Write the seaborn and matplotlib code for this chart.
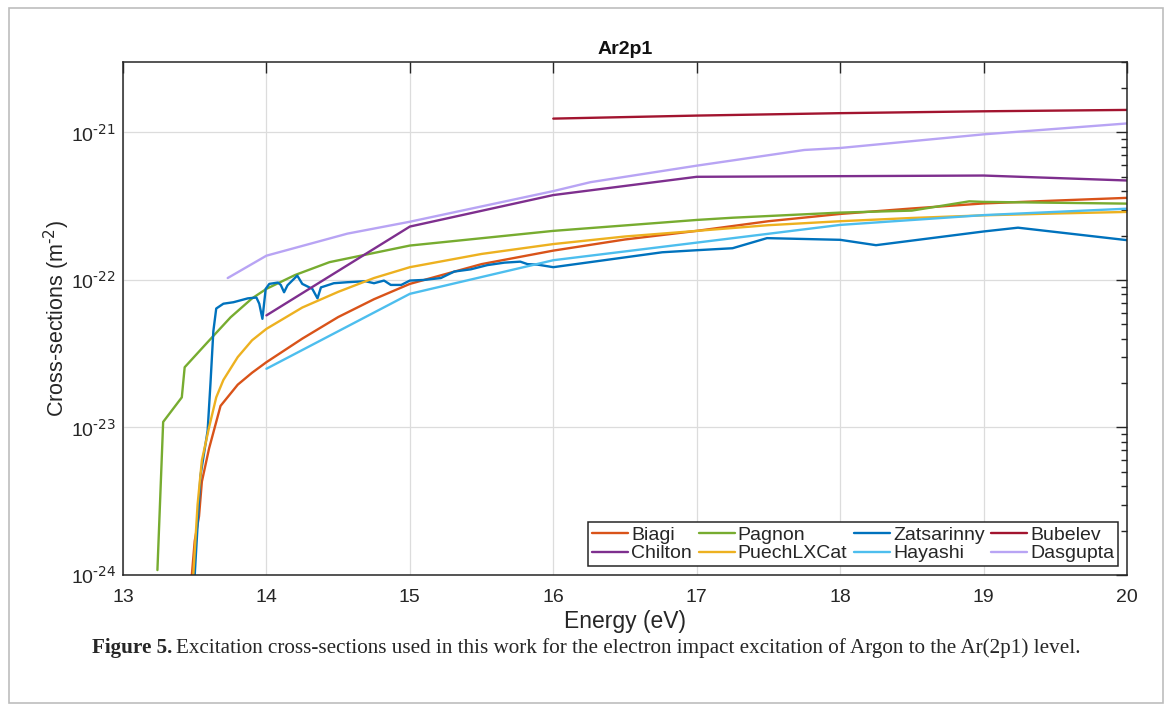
import numpy as np
import pandas as pd
import matplotlib
matplotlib.use("Agg")
import matplotlib.pyplot as plt
import seaborn as sns
from matplotlib.patches import Rectangle
from matplotlib.lines import Line2D
from matplotlib.ticker import NullFormatter, FixedLocator, FuncFormatter

# cross-sections (energy in eV, sigma in m^-2)
biagi_e = [13.48, 13.50, 13.53, 13.55, 13.60, 13.68, 13.80, 13.90, 14.0, 14.25, 14.5, 14.75,
           15.0, 15.5, 16.0, 16.5, 17.0, 17.5, 18.0, 18.5, 19.0, 19.5, 20.0]
biagi_s = [1.0e-24, 1.7e-24, 2.5e-24, 4.3e-24, 7.2e-24, 1.4e-23, 1.95e-23, 2.35e-23, 2.77e-23, 4.0e-23,
           5.6e-23, 7.4e-23, 9.4e-23, 1.28e-22, 1.58e-22, 1.88e-22, 2.15e-22, 2.5e-22, 2.8e-22,
           3.05e-22, 3.3e-22, 3.45e-22, 3.6e-22]

pagnon_e = [13.24, 13.28, 13.41, 13.43, 13.6, 13.75, 13.9, 14.0, 14.2, 14.44, 15.0, 16.0, 17.0,
            17.25, 18.0, 18.5, 18.9, 19.0, 20.0]
pagnon_s = [1.08e-24, 1.09e-23, 1.6e-23, 2.56e-23, 3.88e-23, 5.58e-23, 7.5e-23, 8.7e-23, 1.08e-22,
            1.32e-22, 1.71e-22, 2.15e-22, 2.55e-22, 2.64e-22, 2.86e-22, 2.95e-22, 3.41e-22, 3.38e-22,
            3.29e-22]

zats_e = [13.50, 13.54, 13.59, 13.61, 13.63, 13.65, 13.70, 13.77, 13.87, 13.93, 13.95, 13.972,
          13.995, 14.02, 14.08, 14.10, 14.123, 14.147, 14.18, 14.215, 14.25, 14.32, 14.356, 14.38,
          14.47, 14.565, 14.69, 14.75, 14.82, 14.867, 14.94, 15.0, 15.1, 15.216, 15.31, 15.425,
          15.54, 15.66, 15.77, 15.82, 15.89, 16.0, 16.76, 17.0, 17.25, 17.49, 18.0, 18.25, 19.0,
          19.24, 20.0]
zats_s = [1.0e-24, 4.7e-24, 9.5e-24, 2.0e-23, 4.5e-23, 6.4e-23, 6.9e-23, 7.06e-23, 7.5e-23, 7.6e-23,
          6.9e-23, 5.45e-23, 8.7e-23, 9.4e-23, 9.6e-23, 9.25e-23, 8.25e-23, 9.2e-23, 9.9e-23,
          1.07e-22, 9.4e-23, 8.7e-23, 7.5e-23, 8.9e-23, 9.5e-23, 9.65e-23, 9.8e-23, 9.5e-23,
          9.9e-23, 9.25e-23, 9.25e-23, 9.9e-23, 1.0e-22, 1.03e-22, 1.14e-22, 1.18e-22, 1.26e-22,
          1.31e-22, 1.33e-22, 1.28e-22, 1.27e-22, 1.22e-22, 1.54e-22, 1.59e-22, 1.64e-22, 1.92e-22,
          1.87e-22, 1.72e-22, 2.13e-22, 2.26e-22, 1.86e-22]

bubelev_e = [16.0, 17.0, 18.0, 19.0, 20.0]
bubelev_s = [1.24e-21, 1.30e-21, 1.35e-21, 1.39e-21, 1.42e-21]

chilton_e = [14.0, 15.0, 16.0, 17.0, 18.0, 19.0, 20.0]
chilton_s = [5.75e-23, 2.30e-22, 3.76e-22, 5.0e-22, 5.05e-22, 5.1e-22, 4.72e-22]

puech_e = [13.49, 13.52, 13.55, 13.60, 13.65, 13.70, 13.80, 13.90, 14.0, 14.25, 14.5, 14.75,
           15.0, 15.5, 16.0, 16.5, 17.0, 17.5, 18.0, 18.5, 19.0, 19.5, 20.0]
puech_s = [1.0e-24, 3.0e-24, 6.0e-24, 1.0e-23, 1.6e-23, 2.1e-23, 3.0e-23, 3.9e-23, 4.66e-23,
           6.5e-23, 8.3e-23, 1.03e-22, 1.22e-22, 1.5e-22, 1.75e-22, 1.97e-22, 2.15e-22, 2.35e-22,
           2.5e-22, 2.63e-22, 2.74e-22, 2.82e-22, 2.89e-22]

hayashi_e = [14.0, 15.0, 16.0, 17.0, 18.0, 19.0, 20.0]
hayashi_s = [2.5e-23, 8.05e-23, 1.36e-22, 1.79e-22, 2.36e-22, 2.75e-22, 3.04e-22]

dasgupta_e = [13.73, 14.0, 14.565, 15.0, 16.0, 16.26, 17.0, 17.75, 18.0, 19.0, 20.0]
dasgupta_s = [1.03e-22, 1.46e-22, 2.06e-22, 2.48e-22, 4.0e-22, 4.6e-22, 5.95e-22, 7.6e-22,
              7.84e-22, 9.7e-22, 1.15e-21]

sources = ["Biagi", "Pagnon", "Zatsarinny", "Bubelev", "Chilton", "PuechLXCat", "Hayashi", "Dasgupta"]
colors = ["#D95319", "#77AC30", "#0072BD", "#A2142F", "#7E2F8E", "#EDB120", "#4DBEEE", "#B8A4F4"]
series = [(biagi_e, biagi_s), (pagnon_e, pagnon_s), (zats_e, zats_s), (bubelev_e, bubelev_s),
          (chilton_e, chilton_s), (puech_e, puech_s), (hayashi_e, hayashi_s), (dasgupta_e, dasgupta_s)]

rows = []
for name, (e, s) in zip(sources, series):
    for i, (ei, si) in enumerate(zip(e, s)):
        rows.append((name, i, ei, si))
df = pd.DataFrame(rows, columns=["source", "idx", "energy", "sigma"])

sns.set_style("white")
plt.rcParams["font.family"] = ["Liberation Sans", "DejaVu Sans"]
plt.rcParams["axes.unicode_minus"] = False

fig = plt.figure(figsize=(11.71, 7.10), dpi=100)
ax = fig.add_axes([123 / 1171, 1 - 575 / 710, (1127 - 123) / 1171, (575 - 62) / 710])

cmap = dict(zip(sources, colors))
sns.lineplot(data=df, x="energy", y="sigma", hue="source", hue_order=sources,
             palette=cmap, units="source", estimator=None, sort=False,
             lw=1.7, ax=ax, legend=False)

ax.set_yscale("log")
ax.set_xlim(13, 20)
ax.set_ylim(1e-24, 3e-21)
ax.xaxis.set_major_locator(FixedLocator(range(13, 21)))
# only ticks inside the view, so no stray labels sit outside the figure
decades = [-24, -23, -22, -21]
ax.yaxis.set_major_locator(FixedLocator([10.0 ** d for d in decades]))
ax.yaxis.set_major_formatter(FuncFormatter(
    lambda v, p: r"10$^{\text{%d}}$" % int(round(np.log10(v)))))
minors = [k * 10.0 ** d for d in decades for k in range(2, 10) if k * 10.0 ** d <= 3e-21]
ax.yaxis.set_minor_locator(FixedLocator(minors))
ax.yaxis.set_minor_formatter(NullFormatter())
ax.grid(True, which="major", color="#dcdcdc", lw=0.9)
ax.set_axisbelow(True)
ax.tick_params(which="both", direction="in", top=True, right=True, colors="#262626",
               labelsize=14, labelcolor="#262626")
ax.tick_params(which="major", length=8, width=1)
ax.tick_params(which="minor", length=4.5, width=1)
ax.tick_params(axis="x", pad=10)
ax.tick_params(axis="y", pad=5)
for sp in ax.spines.values():
    sp.set_color("#262626")
    sp.set_linewidth(1.1)

ax.set_title("Ar2p1", fontsize=14, fontweight="bold", color="#111111", pad=6)
ax.set_xlabel("Energy (eV)", fontsize=16.5, color="#262626", labelpad=3)
ax.set_ylabel(r"Cross-sections (m$^{\text{-2}}$)", fontsize=15.5, color="#262626", labelpad=-1)

# legend in MATLAB row order (matplotlib fills column-wise)
leg_order = ["Biagi", "Chilton", "Pagnon", "PuechLXCat", "Zatsarinny", "Hayashi", "Bubelev", "Dasgupta"]
hs = [Line2D([], [], color=cmap[n], lw=1.7) for n in leg_order]
leg = ax.legend(hs, leg_order, ncol=4, loc="lower right", fontsize=14, frameon=True,
                fancybox=False, edgecolor="#262626", framealpha=1, handlelength=1.85,
                handletextpad=0.15, columnspacing=0.35, labelspacing=0.05, borderpad=0.2,
                borderaxespad=0.45)
leg.get_frame().set_linewidth(1.1)

# outer frame of the figure panel
fig.patches.append(Rectangle((9 / 1171, 1 - 703 / 710), (1163 - 9) / 1171, (703 - 8) / 710,
                             transform=fig.transFigure, fill=False, edgecolor="#bdbdbd", lw=1.2))

# caption: bold label followed by regular text
cap_y = 1 - 648 / 710
t1 = fig.text(92 / 1171, cap_y, "Figure 5.", fontsize=15.2, fontweight="bold",
              family="Liberation Serif", va="center", ha="left")
bb = t1.get_window_extent(renderer=fig.canvas.get_renderer())
fig.text((bb.x1 + 4) / 1171, cap_y,
         "Excitation cross-sections used in this work for the electron impact excitation of Argon to the Ar(2p1) level.",
         fontsize=15.2, family="Liberation Serif", va="center", ha="left")

fig.savefig("out.png", dpi=100)
